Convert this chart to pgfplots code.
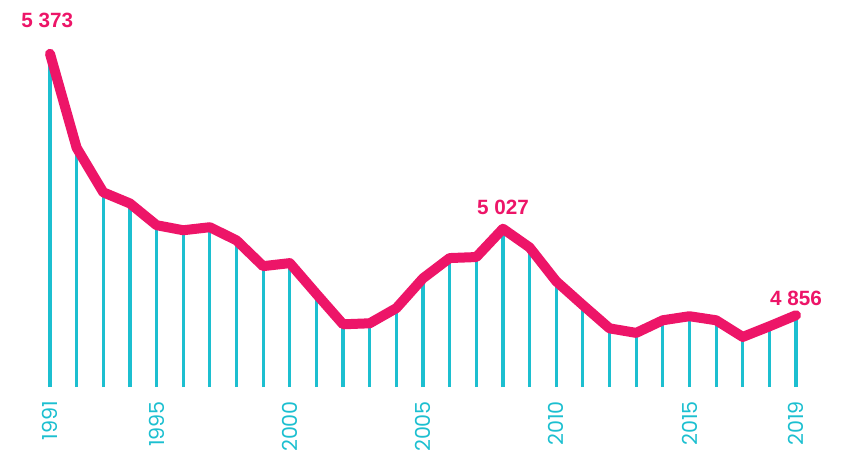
\documentclass[border=0pt]{standalone}
\usepackage{fontspec}
\setmainfont{Liberation Sans}
\newfontfamily\tickfont[Numbers=Proportional]{Poppins}
\usepackage{pgfplots}
\pgfplotsset{compat=1.18}
\definecolor{pinkline}{HTML}{ED1568}
\definecolor{cyanbar}{HTML}{1CBFD0}

\pgfplotstableread{
year value
1991 5373
1992 5187
1993 5099
1994 5077
1995 5034
1996 5024
1997 5030
1998 5004
1999 4953
2000 4959
2001 4898
2002 4838
2003 4840
2004 4870
2005 4929
2006 4969
2007 4971
2008 5027
2009 4990
2010 4923
2011 4876
2012 4830
2013 4821
2014 4846
2015 4854
2016 4846
2017 4813
2018 4834
2019 4856
}\deaths

\begin{document}
\begin{tikzpicture}
% 1 px of the reference = 0.75pt
\useasboundingbox (-27.51pt,-48pt) rectangle (604.74pt,290.25pt);
\begin{axis}[
    at={(0,0)}, anchor=south west,
    scale only axis,
    width=579.5pt, height=267.75pt,
    xmin=1990.5, xmax=2019.5,
    ymin=4714, ymax=5420,
    clip mode=individual,
    axis line style={draw=none},
    major tick length=0pt,
    ytick=\empty,
    xtick={1991,1995,2000,2005,2010,2015,2019},
    xticklabel shift=7pt,
    xticklabel style={rotate=90, anchor=east, text=cyanbar,
        font=\tickfont\fontsize{15.5}{18}\selectfont},
    /pgf/number format/assume math mode=true,
    /pgf/number format/1000 sep={},
]
\addplot[ycomb, draw=cyanbar, line width=2.4pt] table[x=year, y=value] {\deaths};
\addplot[draw=pinkline, line width=7.5pt, line join=round, line cap=round] table[x=year, y=value] {\deaths};

\node[text=pinkline, anchor=base, font=\fontsize{15.5}{18}\selectfont\bfseries, xshift=-2pt, yshift=20pt] at (axis cs:1991,5373) {5 373};
\node[text=pinkline, anchor=base, font=\fontsize{15.5}{18}\selectfont\bfseries, yshift=10.5pt] at (axis cs:2008,5027) {5 027};
\node[text=pinkline, anchor=base, font=\fontsize{15.5}{18}\selectfont\bfseries, yshift=7.5pt] at (axis cs:2019,4856) {4 856};
\end{axis}
\end{tikzpicture}
\end{document}
